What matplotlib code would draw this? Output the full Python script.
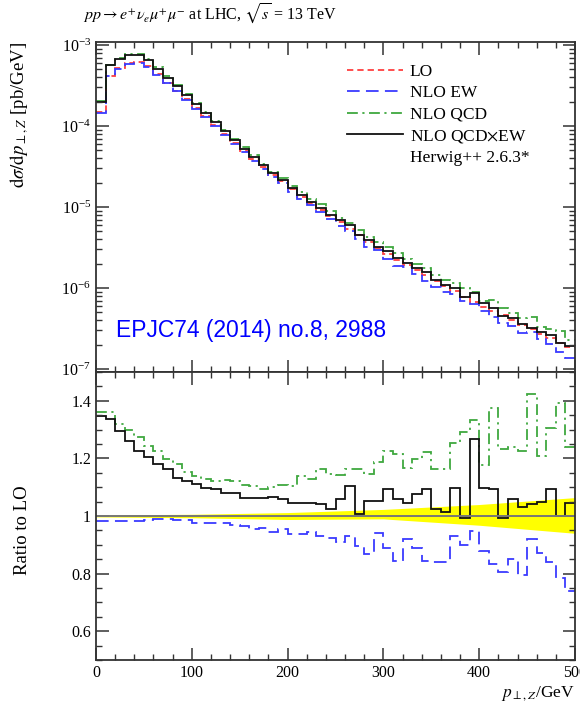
import numpy as np
import matplotlib
matplotlib.use('Agg')
import matplotlib.pyplot as plt
from matplotlib.lines import Line2D
from matplotlib.ticker import MultipleLocator, LogLocator, FuncFormatter, NullFormatter

# binning of p_T,Z (10 GeV bins)
pt_edges = np.arange(0, 501, 10)

# LO differential cross section [pb/GeV] per bin
lo_xsec = [1.48e-4, 4.21e-4, 5.21e-4, 5.94e-4, 6.12e-4, 5.48e-4, 4.35e-4, 3.42e-4, 2.73e-4, 2.14e-4,
           1.68e-4, 1.32e-4, 1.03e-4, 8.05e-5, 6.25e-5, 4.93e-5, 3.93e-5, 3.11e-5, 2.47e-5, 2.07e-5,
           1.66e-5, 1.35e-5, 1.12e-5, 9.3e-6, 7.8e-6, 6.5e-6, 5.4e-6, 4.5e-6, 3.7e-6, 3.1e-6,
           2.6e-6, 2.24e-6, 1.95e-6, 1.66e-6, 1.44e-6, 1.24e-6, 1.07e-6, 9.2e-7, 7.8e-7, 6.8e-7,
           5.9e-7, 5.2e-7, 4.6e-7, 4.0e-7, 3.5e-7, 3.1e-7, 2.7e-7, 2.4e-7, 2.1e-7, 1.85e-7]

# ratios to LO per bin
ratio_ew = [0.983, 0.983, 0.983, 0.983, 0.983, 0.985, 0.990, 0.990, 0.985, 0.985,
            0.975, 0.975, 0.975, 0.975, 0.970, 0.965, 0.955, 0.960, 0.945, 0.954,
            0.936, 0.936, 0.944, 0.930, 0.924, 0.910, 0.930, 0.896, 0.867, 0.940,
            0.890, 0.845, 0.921, 0.890, 0.845, 0.840, 0.840, 0.932, 0.901, 0.948,
            0.878, 0.834, 0.805, 0.851, 0.796, 0.920, 0.873, 0.842, 0.785, 0.741]
ratio_qcd = [1.362, 1.360, 1.319, 1.300, 1.273, 1.243, 1.226, 1.197, 1.180, 1.152,
             1.139, 1.128, 1.122, 1.125, 1.120, 1.107, 1.104, 1.095, 1.100, 1.107,
             1.104, 1.139, 1.130, 1.162, 1.145, 1.142, 1.162, 1.165, 1.145, 1.188,
             1.226, 1.214, 1.168, 1.197, 1.223, 1.162, 1.162, 1.255, 1.293, 1.333,
             1.176, 1.376, 1.232, 1.238, 1.226, 1.423, 1.209, 1.307, 1.394, 1.238]
ratio_qcdew = [1.348, 1.336, 1.296, 1.261, 1.226, 1.206, 1.180, 1.162, 1.133, 1.122,
               1.110, 1.099, 1.093, 1.081, 1.081, 1.064, 1.061, 1.064, 1.067, 1.058,
               1.046, 1.046, 1.044, 1.041, 1.025, 1.058, 1.104, 1.006, 1.052, 1.052,
               1.093, 1.058, 1.046, 1.075, 1.093, 1.023, 1.014, 1.099, 0.994, 1.267,
               1.099, 1.093, 0.994, 1.058, 1.031, 1.041, 1.049, 1.093, 1.000, 1.046]

# scale uncertainty band of LO
band_pt = [0, 100, 200, 300, 400, 500]
band_lo = [0.997, 0.994, 0.988, 0.990, 0.968, 0.940]
band_hi = [1.004, 1.006, 1.012, 1.023, 1.040, 1.064]

labels = ['LO', 'NLO EW', 'NLO QCD', r'NLO QCD$\times$EW']
colors = ['#ff4040', '#3a3aff', '#3fa83f', '#111111']
styles = [(0, (3.5, 2.2)), (0, (7, 3.5)), (0, (6, 2.5, 1.2, 2.5)), '-']

plt.rcParams['font.family'] = ['Liberation Serif', 'DejaVu Serif']
plt.rcParams['mathtext.fontset'] = 'stix'
plt.rcParams['axes.linewidth'] = 1.3
plt.rcParams['axes.edgecolor'] = '#333333'

fig = plt.figure(figsize=(5.8, 7.1), dpi=100)
ax1 = fig.add_axes([0.1655, 0.476, 0.8259, 0.4648])
ax2 = fig.add_axes([0.1655, 0.0704, 0.8259, 0.4056], sharex=ax1)

lo = np.array(lo_xsec)
series = [lo, lo * np.array(ratio_ew), lo * np.array(ratio_qcd), lo * np.array(ratio_qcdew)]
for vals, lab, c, ls in zip(series, labels, colors, styles):
    ax1.stairs(vals, pt_edges, baseline=None, color=c, ls=ls, lw=1.3, label=lab)

ax1.set_yscale('log')
ax1.set_xlim(0, 500)
ax1.set_ylim(9.2e-8, 1.09e-3)
ax1.set_ylabel(r'$\mathrm{d}\sigma/\mathrm{d}p_{\perp,Z}$ [pb/GeV]', fontsize=13.5, loc='top')
ax1.yaxis.set_major_locator(LogLocator(base=10, numticks=10))
ax1.yaxis.set_minor_locator(LogLocator(base=10, subs=np.arange(2, 10), numticks=10))
ax1.yaxis.set_minor_formatter(NullFormatter())
plt.setp(ax1.get_xticklabels(), visible=False)

handles = [Line2D([], [], color=c, ls=ls, lw=1.3) for c, ls in zip(colors, styles)]
handles.append(Line2D([], [], ls='none'))
ax1.legend(handles, labels + ['Herwig++ 2.6.3*'], loc='upper left', bbox_to_anchor=(0.51, 0.955),
           frameon=False, fontsize=12.5, handlelength=3.2, handletextpad=0.4, labelspacing=0.3,
           borderaxespad=0)

# ratio panel
ax2.fill_between(band_pt, band_lo, band_hi, color='#ffff00', lw=0)
ax2.axhline(1.0, color='#777777', lw=1.4)
for r, c, ls in zip([ratio_ew, ratio_qcd, ratio_qcdew], colors[1:], styles[1:]):
    ax2.stairs(r, pt_edges, baseline=None, color=c, ls=ls, lw=1.3)
ax2.set_ylim(0.5, 1.5)
ax2.set_ylabel('Ratio to LO', fontsize=13.5)
ax2.set_xlabel(r'$p_{\perp,Z}$/GeV', fontsize=12.5, loc='right', labelpad=2)
ax2.yaxis.set_major_locator(MultipleLocator(0.2))
ax2.yaxis.set_minor_locator(MultipleLocator(0.05))
ax2.yaxis.set_major_formatter(FuncFormatter(lambda v, p: '%g' % round(v, 2)))
ax2.xaxis.set_major_locator(MultipleLocator(100))
ax2.xaxis.set_minor_locator(MultipleLocator(20))

for ax in (ax1, ax2):
    ax.tick_params(which='both', direction='in', top=True, right=True, labelsize=11.5, color='#333333')
    ax.tick_params(which='major', length=9, width=1.1)
    ax.tick_params(which='minor', length=4.5, width=1.0)
ax1.yaxis.set_label_coords(-0.135, 1.0)
ax2.yaxis.set_label_coords(-0.135, 0.45)

fig.text(0.143, 0.981, r'$pp \rightarrow e^{+}\nu_{e}\mu^{+}\mu^{-}$ at LHC, $\sqrt{s}$ = 13 TeV',
         fontsize=11.5, va='center', ha='left')
fig.text(116 / 580, 1 - 330 / 710, 'EPJC74 (2014) no.8, 2988', color='#0000ff',
         fontsize=16.5, family='Liberation Sans', va='center', ha='left')

fig.savefig('out.png', dpi=100)
